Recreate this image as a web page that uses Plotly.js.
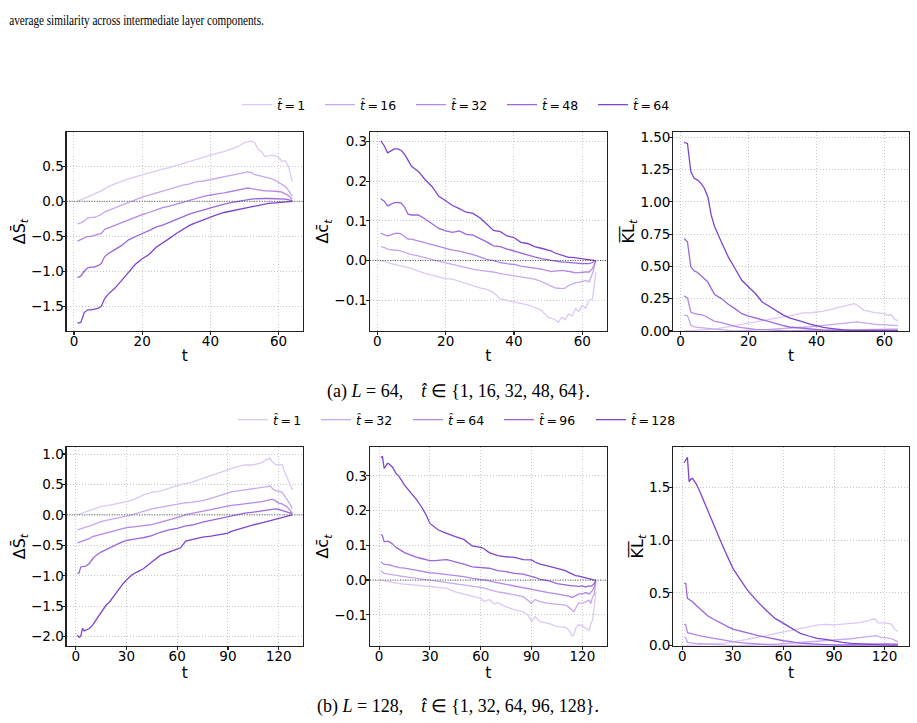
<!DOCTYPE html>
<html><head><meta charset="utf-8">
<script src="https://cdn.plot.ly/plotly-3.0.1.min.js"></script>
<style>html,body{margin:0;padding:0;background:#fff;}#chart{width:917px;height:723px;}</style>
</head><body><div id="chart"></div>
<script>
// ---------- data: L = 64 ----------
const T64 = [1,2,3,4,5,6,7,8,9,10,12,14,16,18,20,22,24,26,28,30,32,34,36,38,40,42,44,46,48,50,51,52,53,54,55,56,57,58,59,60,61,62,63,64];
const HAT64 = ['1','16','32','48','64'];
const S64_t1 = [0.0,0.02,0.05,0.07,0.08,0.1,0.13,0.15,0.18,0.21,0.25,0.29,0.32,0.35,0.38,0.4,0.43,0.46,0.48,0.51,0.54,0.58,0.61,0.64,0.67,0.69,0.71,0.74,0.78,0.84,0.85,0.86,0.84,0.74,0.71,0.64,0.65,0.66,0.65,0.63,0.57,0.58,0.48,0.28];
const S64_t16 = [-0.32,-0.31,-0.28,-0.24,-0.23,-0.23,-0.21,-0.19,-0.15,-0.13,-0.1,-0.06,-0.02,0.02,0.06,0.09,0.12,0.15,0.18,0.21,0.23,0.25,0.28,0.29,0.31,0.32,0.34,0.37,0.39,0.41,0.42,0.41,0.38,0.37,0.36,0.35,0.33,0.32,0.3,0.27,0.25,0.21,0.15,0.07];
const S64_t32 = [-0.57,-0.55,-0.52,-0.5,-0.5,-0.49,-0.48,-0.46,-0.4,-0.38,-0.35,-0.31,-0.27,-0.23,-0.19,-0.16,-0.12,-0.09,-0.07,-0.04,-0.01,0.02,0.05,0.07,0.09,0.1,0.12,0.14,0.16,0.18,0.19,0.18,0.17,0.16,0.16,0.15,0.15,0.15,0.14,0.14,0.13,0.11,0.08,0.03];
const S64_t48 = [-1.09,-1.07,-1.0,-0.95,-0.94,-0.94,-0.92,-0.89,-0.79,-0.75,-0.69,-0.63,-0.55,-0.5,-0.46,-0.42,-0.37,-0.34,-0.3,-0.25,-0.21,-0.18,-0.15,-0.12,-0.09,-0.07,-0.04,-0.02,0.0,0.02,0.03,0.03,0.035,0.04,0.04,0.04,0.04,0.04,0.04,0.04,0.035,0.03,0.02,0.01];
const S64_t64 = [-1.74,-1.73,-1.59,-1.55,-1.55,-1.54,-1.53,-1.5,-1.39,-1.33,-1.24,-1.13,-1.02,-0.9,-0.82,-0.76,-0.66,-0.6,-0.53,-0.46,-0.4,-0.34,-0.3,-0.26,-0.22,-0.19,-0.16,-0.14,-0.12,-0.09,-0.085,-0.08,-0.07,-0.06,-0.05,-0.04,-0.03,-0.025,-0.02,-0.015,-0.01,-0.005,-0.002,0.0];
const C64_t1 = [0.0,-0.002,-0.005,-0.008,-0.01,-0.012,-0.014,-0.016,-0.018,-0.02,-0.027,-0.033,-0.037,-0.042,-0.046,-0.047,-0.053,-0.058,-0.063,-0.069,-0.073,-0.081,-0.097,-0.101,-0.105,-0.109,-0.112,-0.118,-0.126,-0.143,-0.146,-0.149,-0.156,-0.143,-0.149,-0.135,-0.14,-0.122,-0.128,-0.114,-0.12,-0.101,-0.097,-0.029];
const C64_t16 = [0.035,0.033,0.029,0.027,0.026,0.026,0.023,0.02,0.017,0.015,0.012,0.007,0.003,-0.002,-0.006,-0.01,-0.014,-0.019,-0.022,-0.025,-0.027,-0.029,-0.033,-0.036,-0.039,-0.042,-0.044,-0.047,-0.053,-0.061,-0.067,-0.069,-0.07,-0.071,-0.07,-0.063,-0.06,-0.056,-0.055,-0.053,-0.05,-0.054,-0.033,0.0];
const C64_t32 = [0.069,0.066,0.062,0.065,0.068,0.069,0.067,0.06,0.054,0.054,0.049,0.046,0.041,0.035,0.031,0.026,0.024,0.02,0.015,0.009,0.003,0.0,-0.005,-0.008,-0.01,-0.014,-0.016,-0.019,-0.022,-0.027,-0.028,-0.027,-0.026,-0.025,-0.026,-0.027,-0.029,-0.031,-0.03,-0.029,-0.029,-0.029,-0.02,0.0];
const C64_t48 = [0.156,0.15,0.138,0.143,0.146,0.147,0.145,0.134,0.117,0.115,0.115,0.105,0.094,0.081,0.075,0.071,0.075,0.066,0.064,0.056,0.047,0.037,0.035,0.029,0.024,0.018,0.014,0.009,0.005,0.002,0.0,-0.002,-0.003,-0.004,-0.004,-0.005,-0.006,-0.007,-0.007,-0.008,-0.008,-0.008,-0.005,0.0];
const C64_t64 = [0.302,0.29,0.272,0.278,0.282,0.282,0.278,0.268,0.251,0.238,0.225,0.204,0.187,0.162,0.151,0.139,0.131,0.122,0.119,0.108,0.092,0.076,0.073,0.062,0.058,0.046,0.043,0.035,0.031,0.026,0.024,0.019,0.016,0.012,0.01,0.008,0.008,0.007,0.006,0.005,0.004,0.002,0.001,0.0];
const K64_t1 = [0,0.001,0.002,0.003,0.004,0.006,0.008,0.01,0.012,0.015,0.024,0.034,0.044,0.053,0.062,0.072,0.083,0.092,0.1,0.109,0.118,0.127,0.14,0.14,0.147,0.153,0.166,0.178,0.194,0.207,0.212,0.199,0.18,0.16,0.155,0.147,0.143,0.14,0.137,0.134,0.122,0.127,0.09,0.078];
const K64_t16 = [0.122,0.12,0.044,0.031,0.028,0.025,0.022,0.02,0.018,0.015,0.01,0.005,0.001,0.002,0.005,0.008,0.01,0.012,0.015,0.017,0.02,0.024,0.028,0.033,0.038,0.043,0.05,0.055,0.06,0.066,0.068,0.07,0.066,0.062,0.058,0.055,0.052,0.05,0.049,0.048,0.047,0.046,0.043,0.042];
const K64_t32 = [0.272,0.256,0.147,0.134,0.13,0.127,0.118,0.103,0.09,0.075,0.065,0.049,0.036,0.026,0.018,0.013,0.01,0.007,0.005,0.003,0.001,0.002,0.003,0.004,0.005,0.006,0.007,0.008,0.01,0.012,0.013,0.014,0.014,0.014,0.014,0.014,0.014,0.014,0.014,0.015,0.015,0.015,0.015,0.015];
const K64_t48 = [0.716,0.69,0.497,0.465,0.453,0.427,0.401,0.38,0.328,0.282,0.251,0.207,0.173,0.134,0.116,0.101,0.091,0.07,0.057,0.044,0.031,0.026,0.018,0.013,0.008,0.006,0.004,0.002,0.001,0.001,0.002,0.002,0.002,0.002,0.002,0.002,0.002,0.002,0.002,0.002,0.002,0.002,0.002,0.002];
const K64_t64 = [1.461,1.453,1.233,1.182,1.169,1.143,1.104,1.04,0.897,0.807,0.69,0.574,0.484,0.393,0.341,0.29,0.225,0.191,0.16,0.127,0.101,0.088,0.07,0.054,0.041,0.028,0.021,0.013,0.008,0.005,0.004,0.004,0.003,0.003,0.002,0.002,0.002,0.001,0.001,0.001,0.001,0.0,0.0,0.0];

// ---------- data: L = 128 ----------
const T128 = [1,2,3,4,5,6,8,10,12,15,18,20,22,25,28,30,33,35,38,40,45,50,55,60,62,65,68,70,75,80,85,88,90,92,95,100,105,110,112,114,115,116,118,120,122,124,125,126,127,128];
const HAT128 = ['1','32','64','96','128'];
const S128_t1 = [0.0,0.01,0.02,0.03,0.04,0.05,0.07,0.1,0.11,0.14,0.15,0.16,0.17,0.19,0.21,0.22,0.24,0.26,0.3,0.33,0.37,0.39,0.43,0.48,0.5,0.51,0.53,0.55,0.6,0.64,0.69,0.72,0.75,0.77,0.79,0.82,0.82,0.86,0.9,0.92,0.93,0.88,0.83,0.82,0.83,0.67,0.62,0.55,0.48,0.41];
const S128_t32 = [-0.245,-0.235,-0.22,-0.215,-0.21,-0.2,-0.185,-0.16,-0.14,-0.11,-0.09,-0.08,-0.07,-0.05,-0.03,-0.02,0.0,0.02,0.04,0.06,0.1,0.125,0.15,0.18,0.19,0.2,0.205,0.21,0.235,0.27,0.32,0.35,0.37,0.38,0.39,0.41,0.43,0.44,0.46,0.47,0.48,0.44,0.4,0.39,0.37,0.29,0.25,0.21,0.16,0.1];
const S128_t64 = [-0.46,-0.45,-0.44,-0.42,-0.41,-0.4,-0.39,-0.355,-0.34,-0.32,-0.3,-0.285,-0.27,-0.245,-0.225,-0.21,-0.2,-0.19,-0.18,-0.175,-0.16,-0.12,-0.08,-0.05,-0.03,0.005,0.02,0.03,0.055,0.09,0.115,0.135,0.15,0.155,0.165,0.18,0.195,0.22,0.23,0.24,0.245,0.26,0.235,0.195,0.18,0.15,0.13,0.1,0.07,0.03];
const S128_t96 = [-0.965,-0.95,-0.855,-0.85,-0.855,-0.84,-0.8,-0.72,-0.665,-0.61,-0.57,-0.54,-0.51,-0.475,-0.44,-0.42,-0.405,-0.39,-0.38,-0.375,-0.34,-0.285,-0.245,-0.22,-0.2,-0.18,-0.17,-0.16,-0.12,-0.09,-0.065,-0.05,-0.04,-0.03,-0.01,0.03,0.045,0.07,0.08,0.09,0.09,0.095,0.1,0.09,0.075,0.06,0.05,0.04,0.03,0.015];
const S128_t128 = [-1.975,-2.01,-1.99,-1.865,-1.905,-1.89,-1.865,-1.81,-1.73,-1.59,-1.48,-1.43,-1.35,-1.24,-1.13,-1.07,-0.99,-0.955,-0.91,-0.885,-0.775,-0.665,-0.61,-0.555,-0.54,-0.43,-0.41,-0.39,-0.365,-0.35,-0.32,-0.31,-0.3,-0.27,-0.245,-0.2,-0.165,-0.13,-0.115,-0.1,-0.09,-0.085,-0.07,-0.05,-0.04,-0.025,-0.015,-0.01,-0.005,0.0];
const C128_t1 = [0.0,-0.001,-0.002,-0.003,-0.005,-0.006,-0.007,-0.008,-0.01,-0.012,-0.013,-0.014,-0.015,-0.017,-0.018,-0.019,-0.02,-0.021,-0.022,-0.024,-0.034,-0.04,-0.046,-0.053,-0.062,-0.056,-0.069,-0.065,-0.077,-0.086,-0.091,-0.101,-0.12,-0.105,-0.12,-0.125,-0.134,-0.136,-0.144,-0.161,-0.158,-0.139,-0.129,-0.132,-0.139,-0.144,-0.125,-0.115,-0.077,-0.034];
const C128_t32 = [0.026,0.024,0.019,0.018,0.017,0.016,0.015,0.013,0.012,0.01,0.008,0.007,0.006,0.004,0.002,0.0,-0.002,-0.004,-0.006,-0.008,-0.01,-0.014,-0.017,-0.021,-0.023,-0.027,-0.031,-0.034,-0.038,-0.043,-0.048,-0.059,-0.067,-0.056,-0.062,-0.067,-0.069,-0.072,-0.078,-0.088,-0.091,-0.081,-0.065,-0.067,-0.062,-0.058,-0.068,-0.048,-0.04,-0.005];
const C128_t64 = [0.053,0.05,0.045,0.045,0.045,0.044,0.041,0.038,0.036,0.034,0.031,0.029,0.028,0.026,0.023,0.021,0.02,0.019,0.018,0.017,0.014,0.01,0.005,0.002,0.001,-0.002,-0.006,-0.008,-0.012,-0.017,-0.021,-0.024,-0.027,-0.028,-0.031,-0.036,-0.04,-0.043,-0.046,-0.05,-0.048,-0.044,-0.04,-0.04,-0.036,-0.04,-0.035,-0.03,-0.02,0.0];
const C128_t96 = [0.131,0.128,0.11,0.111,0.112,0.11,0.104,0.094,0.088,0.079,0.073,0.069,0.066,0.062,0.058,0.056,0.056,0.056,0.058,0.059,0.053,0.046,0.038,0.035,0.035,0.034,0.03,0.027,0.024,0.019,0.017,0.014,0.012,0.008,0.002,-0.002,-0.01,-0.015,-0.016,-0.017,-0.017,-0.018,-0.018,-0.017,-0.02,-0.017,-0.018,-0.015,-0.01,0.0];
const C128_t128 = [0.353,0.355,0.321,0.328,0.336,0.334,0.324,0.307,0.297,0.273,0.256,0.244,0.232,0.211,0.185,0.163,0.152,0.144,0.138,0.134,0.125,0.117,0.098,0.094,0.09,0.079,0.073,0.07,0.067,0.065,0.059,0.058,0.058,0.052,0.046,0.04,0.034,0.027,0.022,0.017,0.014,0.013,0.011,0.008,0.006,0.004,0.002,0.001,0.0,0.0];
const K128_t1 = [0.0,0.0,0.001,0.001,0.002,0.003,0.005,0.009,0.01,0.013,0.016,0.019,0.021,0.025,0.032,0.038,0.043,0.047,0.058,0.066,0.079,0.095,0.114,0.129,0.137,0.148,0.158,0.164,0.18,0.196,0.202,0.198,0.196,0.2,0.205,0.212,0.218,0.234,0.249,0.253,0.243,0.218,0.218,0.218,0.212,0.205,0.174,0.155,0.14,0.142];
const K128_t32 = [0.079,0.076,0.032,0.028,0.025,0.024,0.021,0.019,0.017,0.013,0.009,0.006,0.005,0.003,0.001,0.001,0.0,0.001,0.001,0.002,0.005,0.009,0.014,0.019,0.021,0.025,0.029,0.032,0.038,0.044,0.049,0.052,0.054,0.057,0.06,0.066,0.076,0.085,0.093,0.098,0.095,0.09,0.079,0.076,0.075,0.066,0.06,0.047,0.042,0.038];
const K128_t64 = [0.202,0.2,0.123,0.12,0.117,0.113,0.107,0.095,0.088,0.079,0.069,0.063,0.057,0.047,0.041,0.038,0.032,0.028,0.025,0.022,0.016,0.009,0.006,0.003,0.002,0.0,0.001,0.002,0.004,0.006,0.008,0.009,0.01,0.011,0.012,0.015,0.016,0.017,0.02,0.022,0.022,0.021,0.02,0.019,0.019,0.018,0.018,0.017,0.016,0.016];
const K128_t96 = [0.59,0.59,0.448,0.439,0.43,0.417,0.385,0.354,0.322,0.284,0.255,0.237,0.222,0.196,0.172,0.158,0.145,0.133,0.12,0.11,0.095,0.079,0.06,0.047,0.043,0.035,0.029,0.025,0.019,0.013,0.009,0.007,0.006,0.004,0.001,0.002,0.004,0.005,0.006,0.007,0.007,0.007,0.007,0.008,0.008,0.008,0.008,0.008,0.008,0.008];
const K128_t128 = [1.733,1.765,1.784,1.553,1.576,1.585,1.538,1.475,1.396,1.285,1.175,1.096,1.017,0.906,0.811,0.733,0.66,0.61,0.54,0.5,0.41,0.332,0.259,0.212,0.195,0.164,0.135,0.117,0.092,0.069,0.06,0.05,0.044,0.04,0.032,0.022,0.016,0.013,0.011,0.01,0.009,0.008,0.007,0.006,0.005,0.004,0.003,0.002,0.001,0.0];

// ---------- styling ----------
const COLORS = ['#dcc8f5','#c8a8ef','#b288e8','#9a66de','#7f44cf'];
const FONT = 'DejaVu Sans';
const LEGEND_W = [[38,46,46,46,40],[38,47,46,47,45]];

const rows = [
  {T: T64, hats: HAT64, legend: 'legend', panels: [
    [S64_t1,S64_t16,S64_t32,S64_t48,S64_t64],
    [C64_t1,C64_t16,C64_t32,C64_t48,C64_t64],
    [K64_t1,K64_t16,K64_t32,K64_t48,K64_t64]]},
  {T: T128, hats: HAT128, legend: 'legend2', panels: [
    [S128_t1,S128_t32,S128_t64,S128_t96,S128_t128],
    [C128_t1,C128_t32,C128_t64,C128_t96,C128_t128],
    [K128_t1,K128_t32,K128_t64,K128_t96,K128_t128]]}
];

const traces = [];
rows.forEach((row, r) => {
  row.panels.forEach((series, p) => {
    const n = r*3 + p + 1;
    const sfx = n === 1 ? '' : String(n);
    series.forEach((vals, i) => {
      traces.push({
        type: 'scatter', mode: 'lines', x: row.T, y: vals,
        xaxis: 'x' + sfx, yaxis: 'y' + sfx,
        name: '<i>t\u0302</i>\u2009=\u2009' + row.hats[i],
        legend: row.legend, showlegend: p === 0, legendwidth: LEGEND_W[r][i],
        line: {color: COLORS[i], width: 1.3},
        hoverinfo: 'skip'
      });
    });
  });
});

const xDom = [[0.0727,0.3304],[0.4035,0.6616],[0.7343,0.9910]];
const yDom = [[0.5422,0.8174],[0.1069,0.3813]];
const xRanges = [[-2.15,67.15],[-5.35,134.35]];
const xTicks = [[0,20,40,60],[0,30,60,90,120]];
const yRanges = [
  [[-1.853,0.99],[-0.178,0.3246],[0,1.541]],
  [[-2.148,1.11],[-0.189,0.382],[0,1.879]]
];
const yTicks = [
  [[-1.5,-1,-0.5,0,0.5],[-0.1,0,0.1,0.2,0.3],[0,0.25,0.5,0.75,1,1.25,1.5]],
  [[-2,-1.5,-1,-0.5,0,0.5,1],[-0.1,0,0.1,0.2,0.3],[0,0.5,1,1.5]]
];
const yFormats = [['.1f','.1f','.2f'],['.1f','.1f','.1f']];
const yTitles = ['\u0394S\u0304<sub><i>t</i></sub>','\u0394c\u0304<sub><i>t</i></sub>','K\u0305L\u0305<sub><i>t</i></sub>'];

const common = {
  showline: true, mirror: true, linecolor: '#222', linewidth: 1.2,
  ticks: 'outside', ticklen: 3, tickwidth: 1.1, tickcolor: '#222',
  showgrid: true, gridcolor: '#c8c8c8', griddash: '1px,2px', gridwidth: 1,
  zeroline: false, tickfont: {family: FONT, size: 13.5, color: '#000'},
  fixedrange: true
};

const layout = {
  width: 917, height: 723,
  margin: {l: 0, r: 0, t: 0, b: 0},
  paper_bgcolor: '#fff', plot_bgcolor: '#fff',
  font: {family: FONT, color: '#000'},
  shapes: [], annotations: [],
  legend: {orientation: 'h', x: 237/917, xanchor: 'left', y: 1 - 105/723, yanchor: 'middle',
           font: {family: FONT, size: 12.5, color: '#000'}, bgcolor: 'rgba(0,0,0,0)', traceorder: 'normal'},
  legend2: {orientation: 'h', x: 233/917, xanchor: 'left', y: 1 - 420/723, yanchor: 'middle',
           font: {family: FONT, size: 12.5, color: '#000'}, bgcolor: 'rgba(0,0,0,0)', traceorder: 'normal'}
};

for (let r = 0; r < 2; r++) {
  for (let p = 0; p < 3; p++) {
    const n = r*3 + p + 1;
    const sfx = n === 1 ? '' : String(n);
    layout['xaxis' + sfx] = Object.assign({}, common, {
      domain: xDom[p], range: xRanges[r], tickvals: xTicks[r], anchor: 'y' + sfx, ticklabelstandoff: -5,
      title: {text: 't', font: {family: FONT, size: 15.5, color: '#000'}, standoff: 1}
    });
    layout['yaxis' + sfx] = Object.assign({}, common, {
      domain: yDom[r], range: yRanges[r][p], tickvals: yTicks[r][p], tickformat: yFormats[r][p], anchor: 'x' + sfx,
      ticklabelstandoff: -4,
      title: {text: yTitles[p], font: {family: FONT, size: 16, color: '#000'}, standoff: 1}
    });
    if (p < 2) {
      layout.shapes.push({type: 'line', xref: 'x' + sfx + ' domain', x0: 0, x1: 1, yref: 'y' + sfx, y0: 0, y1: 0,
        line: {color: '#444', width: 0.9, dash: '1px,1.5px'}, layer: 'above'});
    }
  }
}

const SERIF = 'Liberation Serif';
layout.annotations.push(
  {xref: 'paper', yref: 'paper', x: 7/917, y: 1 - 20/723, xanchor: 'left', yanchor: 'middle', showarrow: false,
   text: 'average similarity across intermediate layer components.', font: {family: SERIF, size: 14.5, color: '#000'}},
  {xref: 'paper', yref: 'paper', x: 458/917, y: 1 - 391/723, xanchor: 'center', yanchor: 'middle', showarrow: false,
   text: '(a) <i>L</i> = 64,\u00a0\u00a0\u00a0\u00a0<i>t\u0302</i> \u2208 {1, 16, 32, 48, 64}.', font: {family: SERIF, size: 18, color: '#000'}},
  {xref: 'paper', yref: 'paper', x: 458/917, y: 1 - 706/723, xanchor: 'center', yanchor: 'middle', showarrow: false,
   text: '(b) <i>L</i> = 128,\u00a0\u00a0\u00a0\u00a0<i>t\u0302</i> \u2208 {1, 32, 64, 96, 128}.', font: {family: SERIF, size: 18, color: '#000'}}
);

Plotly.newPlot('chart', traces, layout, {displayModeBar: false, staticPlot: true}).then(gd => {
  // the reference's top text line is set in a horizontally condensed face; compress it to the same extent
  const t = gd.querySelector('.annotation[data-index="0"] text');
  if (t) {
    const bb = t.getBBox();
    if (bb.width > 0) {
      const s = 255 / bb.width;
      t.setAttribute('transform', 'translate(' + bb.x + ',0) scale(' + s + ',1) translate(' + (-bb.x) + ',0)');
    }
  }
});
</script>
</body></html>
